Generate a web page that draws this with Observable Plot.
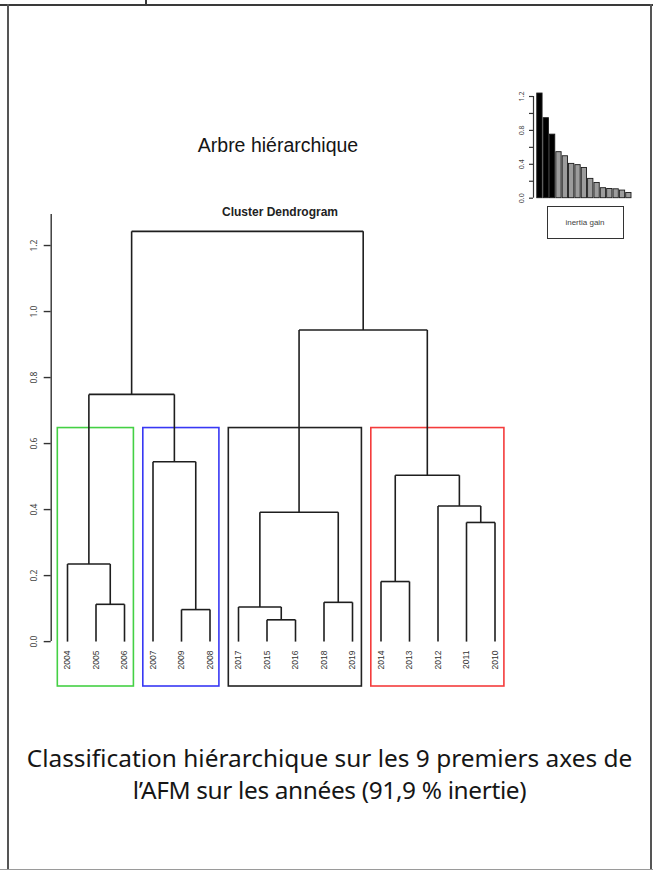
<!DOCTYPE html>
<html><head><meta charset="utf-8">
<script src="https://cdn.jsdelivr.net/npm/d3@7"></script>
<script src="https://cdn.jsdelivr.net/npm/@observablehq/plot@0.6"></script>
<style>
body{margin:0;background:#fff;}
#page{position:relative;width:653px;height:870px;overflow:hidden;background:#fff;font-family:"Liberation Sans",Arial,sans-serif;}
#page > *{position:absolute;}
</style></head><body><div id="page"></div>
<script>
// ---- data ----
const leaves = ["2004","2005","2006","2007","2009","2008","2017","2015","2016","2018","2019","2014","2013","2012","2011","2010"];
// hierarchical merges (R hclust style): "#k" refers to merge k (1-based)
const mergeLeft   = ["2015","2009","2017","2005","2018","2014","2004","2011","#3","2012","#6","2007","#7","#9","#13"];
const mergeRight  = ["2016","2008","#1","2006","2019","2013","#4","2010","#5","#8","#10","#2","#12","#11","#14"];
const mergeHeight = [0.066,0.097,0.105,0.113,0.119,0.182,0.235,0.361,0.392,0.411,0.504,0.545,0.749,0.944,1.243];
// clusters (first and last leaf)
const clusterFirst = ["2004","2007","2017","2014"];
const clusterLast  = ["2006","2008","2019","2010"];
const clusterName  = ["c1","c2","c3","c4"];
// inset bar chart: inertia gain
const inertiaGain = [1.235,0.944,0.75,0.543,0.495,0.405,0.39,0.357,0.228,0.18,0.118,0.108,0.105,0.09,0.062];
const yTicks = [0,0.2,0.4,0.6,0.8,1.0,1.2];
const insetTicks = [0,0.2,0.4,0.6,0.8,1.0,1.2];
const insetLabels = [0,0.4,0.8,1.2];
const nbClust = 4;
const captionLines = ["Classification hiérarchique sur les 9 premiers axes de", "l’AFM sur les années (91,9 % inertie)"];

// ---- build the tree geometry from the data ----
const pos = new Map(leaves.map((d,i)=>[d,{x:i,y:0}]));
const segs = [];
mergeHeight.forEach((h,k)=>{
  const a = pos.get(mergeLeft[k]), b = pos.get(mergeRight[k]);
  segs.push({x1:a.x,y1:a.y,x2:a.x,y2:h});
  segs.push({x1:b.x,y1:b.y,x2:b.x,y2:h});
  segs.push({x1:a.x,y1:h,x2:b.x,y2:h});
  pos.set("#"+(k+1),{x:(a.x+b.x)/2,y:h});
});
const sortedH = [...mergeHeight].sort((a,b)=>b-a);
const cutH = (sortedH[nbClust-2]+sortedH[nbClust-1])/2;
const yMin = -0.136, yMax = 1.294;
const clusters = clusterName.map((c,i)=>({c, x1: leaves.indexOf(clusterFirst[i])-0.34, x2: leaves.indexOf(clusterLast[i])+0.33, y1: yMin, y2: cutH}));
const xMin = -0.572;

const page = document.getElementById("page");

const main = Plot.plot({
  width:653, height:870,
  marginLeft:50.7, marginRight:158.5, marginTop:214, marginBottom:184,
  x:{domain:[xMin, leaves.length-1], axis:null},
  y:{domain:[yMin, yMax], axis:null},
  color:{domain:clusterName, range:["#44d044","#3838f4","#222222","#f43c3c"]},
  style:{background:"transparent", overflow:"visible"},
  marks:[
    Plot.rect(clusters,{x1:"x1",x2:"x2",y1:"y1",y2:"y2",fill:"none",stroke:"c",strokeWidth:1.6}),
    Plot.link(segs,{x1:"x1",y1:"y1",x2:"x2",y2:"y2",stroke:"#1e1e1e",strokeWidth:1.6}),
    Plot.text(leaves,{x:(d,i)=>i, y:0, text:d=>d, rotate:-90, textAnchor:"end", dy:9, fontSize:8.5, fill:"#333", fontFamily:"Liberation Sans"}),
    Plot.ruleX([xMin],{y1:0, y2:yMax, stroke:"#333", strokeWidth:1.4}),
    Plot.axisY({ticks:yTicks, tickSize:7, tickPadding:7.5, tickRotate:-90, tickFormat:d3.format(".1f"), fontSize:8.5, stroke:"#333", strokeWidth:1.4, fill:"#444"})
  ]
});
main.style.left="0px"; main.style.top="0px";
page.appendChild(main);

const inset = Plot.plot({
  width:160, height:125,
  marginLeft:53, marginRight:9, marginTop:16, marginBottom:7.3,
  x:{domain:[-0.512, 18], axis:null},
  y:{domain:[0,1.2], axis:null},
  style:{background:"transparent", overflow:"visible"},
  marks:[
    Plot.rectY(inertiaGain,{x1:(d,i)=>0.2+1.2*i, x2:(d,i)=>1.2+1.2*i, y1:0, y2:d=>d, fill:(d,i)=> i < nbClust-1 ? "black" : "#9c9c9c", stroke:"#1a1a1a", strokeWidth:0.9}),
    Plot.ruleX([-0.512],{y1:0,y2:1.2,stroke:"#333",strokeWidth:1.2}),
    Plot.axisY({ticks:insetTicks, tickSize:4, tickPadding:6, tickRotate:-90, tickFormat:d=> insetLabels.includes(d) ? d3.format(".1f")(d) : "", fontSize:7, stroke:"#333", strokeWidth:1.2, fill:"#444"})
  ]
});
inset.style.left="480px"; inset.style.top="80px";
page.appendChild(inset);

function addDiv(css, text){ const d=document.createElement("div"); d.style.cssText=css; if(text!=null) d.textContent=text; page.appendChild(d); return d; }
// frame lines
addDiv("left:0;top:4px;width:653px;height:2px;background:#3a3a3a;");
addDiv("left:144.5px;top:0;width:2px;height:5px;background:#3a3a3a;");
addDiv("left:6.5px;top:4px;width:2.5px;height:866px;background:#555;");
addDiv("left:650px;top:4px;width:2px;height:866px;background:#555;");
addDiv("left:0;top:868.5px;width:653px;height:1.5px;background:#9a9a9a;");
// titles
addDiv("left:178px;top:136px;width:200px;text-align:center;font-size:19.5px;line-height:19.5px;color:#151515;", "Arbre hiérarchique");
addDiv("left:180px;top:205.5px;width:200px;text-align:center;font-size:12px;line-height:12px;font-weight:bold;color:#222;", "Cluster Dendrogram");
// legend box
addDiv("left:546.5px;top:205.5px;width:75px;height:31px;border:1px solid #333;text-align:center;font-size:8px;line-height:31px;color:#444;", "inertia gain");

// caption: pick the installed font whose line proportions are closest to the reference, fit line 1 width
const targetW = [606, 354];
const ctx = document.createElement("canvas").getContext("2d");
const fonts = ["Noto Sans","Open Sans","Lato","Roboto","Inter","DejaVu Sans","Liberation Sans"];
let best = null;
for (const f of fonts) {
  ctx.font = `100px "${f}"`;
  const w = captionLines.map(t=>ctx.measureText(t).width);
  const score = Math.abs(w[1]/w[0] - targetW[1]/targetW[0]);
  if (!best || score < best.score) best = {f, w, score};
}
const fs = 100*targetW[0]/best.w[0];
captionLines.forEach((t,i)=>{
  const w2 = best.w[i]*fs/100;
  const ls = i===0 ? 0 : Math.max(-0.35, (targetW[i]-w2)/t.length);
  addDiv(`left:9px;top:${742+32*i}px;width:641px;text-align:center;font-family:'${best.f}',sans-serif;font-size:${fs}px;line-height:32px;letter-spacing:${ls}px;color:#161616;white-space:nowrap;`, t);
});
</script></body></html>
